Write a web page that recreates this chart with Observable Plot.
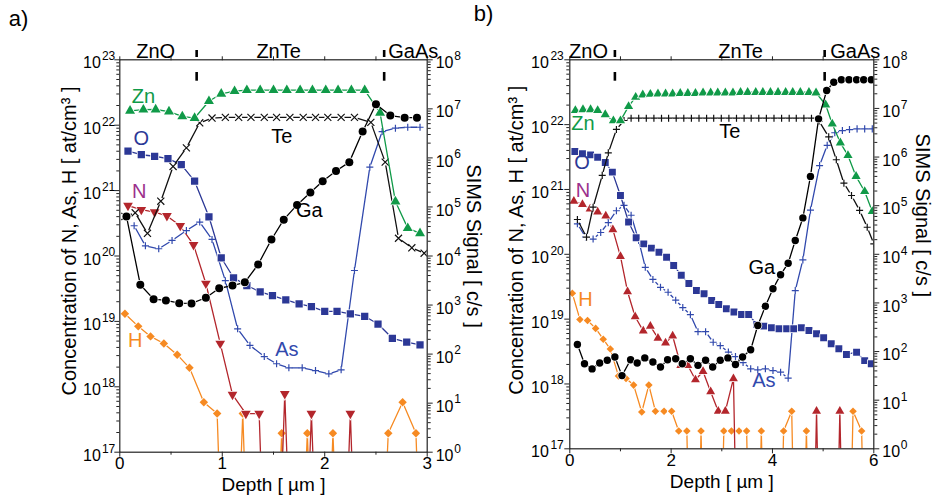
<!DOCTYPE html>
<html><head><meta charset="utf-8">
<script src="https://cdn.jsdelivr.net/npm/d3@7"></script>
<script src="https://cdn.jsdelivr.net/npm/@observablehq/plot@0.6"></script>
<style>
body{margin:0;background:#fff;}
#wrap{position:relative;width:933px;height:504px;overflow:hidden;font-family:"Liberation Sans",Arial,sans-serif;}
#wrap svg{position:absolute;top:0;overflow:visible;}
</style></head><body><div id="wrap"></div>
<script>
// ---------- tick labels ----------
const leftExponents = [17, 18, 19, 20, 21, 22, 23];   // concentration axis 10^17 .. 10^23 at/cm3
const rightExponents = [0, 1, 2, 3, 4, 5, 6, 7, 8];    // SIMS signal axis 10^0 .. 10^8 c/s
const aDepthTicks = [0, 1, 2, 3];
const bDepthTicks = [0, 2, 4, 6];
const aLayers = ["ZnO", "ZnTe", "GaAs"];
const bLayers = ["ZnO", "ZnTe", "GaAs"];
const aInterfaces = [0.75, 2.58];
const bInterfaces = [0.89, 5.03];

// ---------- panel a) data ----------
const aZnDepth = [0.10,0.23,0.35,0.48,0.61,0.73,0.87,0.99,1.12,1.24,1.37,1.50,1.63,1.76,1.88,2.01,2.13,2.26,2.39,2.54,2.69,2.81,2.93];
const aZnSignal = [9.1e6,9.6e6,9.7e6,8.8e6,7.0e6,6.5e6,1.43e7,2.03e7,2.29e7,2.4e7,2.4e7,2.4e7,2.4e7,2.4e7,2.4e7,2.4e7,2.4e7,2.4e7,2.4e7,8.3e6,1.29e5,3.7e4,2.9e4];
const aTeDepth = [0.05,0.15,0.27,0.40,0.52,0.65,0.78,0.90,1.03,1.16,1.28,1.41,1.53,1.66,1.79,1.91,2.03,2.16,2.29,2.45,2.59,2.72,2.85,2.97];
const aTeSignal = [6.4e4,7.6e4,2.9e4,1.31e5,6.7e5,1.6e6,5.2e6,6.5e6,6.7e6,6.7e6,6.7e6,6.7e6,6.7e6,6.7e6,6.7e6,6.7e6,6.7e6,6.7e6,6.7e6,5.3e6,8.2e5,2.3e4,1.47e4,1.14e4];
const aGaDepth = [0.065,0.20,0.33,0.45,0.58,0.70,0.84,0.97,1.10,1.22,1.35,1.48,1.60,1.73,1.86,1.98,2.11,2.24,2.37,2.50,2.64,2.78,2.90];
const aGaSignal = [6.4e4,2.6e3,1.32e3,1.24e3,1.09e3,1.08e3,1.41e3,2.2e3,2.5e3,2.9e3,6.7e3,2.17e4,5.5e4,1.1e5,1.97e5,3.35e5,5.4e5,8.2e5,3.45e6,1.24e7,7.3e6,6.6e6,6.6e6];
const aODepth = [0.08,0.21,0.34,0.47,0.60,0.73,0.87,0.99,1.11,1.24,1.37,1.49,1.62,1.75,1.87,2.00,2.12,2.25,2.39,2.52,2.66,2.80,2.93];
const aOSignal = [1.37e6,1.16e6,1.08e6,9.7e5,7.3e5,3.35e5,6.3e4,9.2e3,3.6e3,2.5e3,1.86e3,1.55e3,1.28e3,1.06e3,930,740,740,660,590,410,210,175,155];
const aNDepth = [0.08,0.21,0.34,0.46,0.59,0.72,0.84,0.98,1.10,1.23,1.36,1.48,1.61,1.74,1.87,2.00,2.12,2.25,2.37];
const aNConc = [5.9e20,5.1e20,4.7e20,4.1e20,2.9e20,1.48e20,3.8e19,4.6e18,7.6e17,3.9e17,3.9e17,0,7.8e17,0,3.9e17,0,0,3.9e17,0];
const aHDepth = [0.05,0.18,0.30,0.43,0.56,0.68,0.82,0.95,1.07,1.20,1.32,1.45,1.58,1.70,1.83,1.96,2.08,2.21,2.34,2.47,2.62,2.76,2.89,3.01];
const aHConc = [1.31e19,8.4e18,5.9e18,4.6e18,3.1e18,1.95e18,5.8e17,3.9e17,0,3.9e17,0,0,1.95e17,0,1.95e17,0,1.95e17,0,0,0,1.95e17,5.8e17,1.95e17,0];
const aAsDepth = [0.14,0.25,0.38,0.51,0.65,0.78,0.90,1.03,1.15,1.27,1.41,1.53,1.65,1.78,1.91,2.04,2.16,2.29,2.44,2.56,2.69,2.81,2.93];
const aAsConc = [2.9e20,1.43e20,1.29e20,1.73e20,2.45e20,3.3e20,1.79e20,4.2e19,7.7e18,4.3e18,2.9e18,2.25e18,1.95e18,1.95e18,1.77e18,1.58e18,1.82e18,6.0e19,2.28e21,8.0e21,9.0e21,9.3e21,9.3e21];

// ---------- panel b) data ----------
const bZnDepth = [0.11,0.26,0.41,0.55,0.70,0.86,1.00,1.16,1.30,1.44,1.59,1.74,1.89,2.03,2.18,2.33,2.48,2.63,2.78,2.92,3.07,3.22,3.37,3.51,3.67,3.81,3.96,4.11,4.26,4.40,4.55,4.72,4.86,5.05,5.18,5.34,5.49,5.65,5.82,5.97];
const bZnSignal = [9.1e6,9.5e6,9.5e6,9.1e6,7.5e6,5.6e6,5.6e6,1.1e7,1.7e7,1.9e7,1.96e7,2.0e7,2.0e7,2.0e7,2.05e7,2.05e7,2.05e7,2.1e7,2.1e7,2.1e7,2.1e7,2.1e7,2.15e7,2.15e7,2.15e7,2.15e7,2.15e7,2.15e7,2.15e7,2.15e7,2.15e7,2.15e7,2.1e7,1.19e7,4.8e6,1.96e6,1.08e6,4.0e5,1.96e5,7.6e4];
const bTeDepth = [0.15,0.33,0.46,0.64,0.76,0.92,1.07,1.21,1.36,1.51,1.66,1.81,1.95,2.10,2.25,2.40,2.55,2.70,2.84,2.99,3.14,3.29,3.44,3.58,3.73,3.88,4.03,4.18,4.33,4.47,4.62,4.77,4.92,5.11,5.26,5.41,5.56,5.72,5.87,6.0];
const bTeSignal = [5.2e4,2.25e4,9.3e4,4.2e5,1.22e6,3.7e6,5.65e6,6.3e6,6.3e6,6.3e6,6.3e6,6.3e6,6.3e6,6.3e6,6.3e6,6.3e6,6.3e6,6.3e6,6.3e6,6.3e6,6.3e6,6.3e6,6.3e6,6.3e6,6.3e6,6.3e6,6.3e6,6.3e6,6.3e6,6.3e6,6.3e6,6.3e6,5.5e6,2.6e6,8.8e5,2.9e5,1.62e5,8.0e4,3.6e4,1.64e4];
const bGaDepth = [0.15,0.29,0.44,0.59,0.74,0.89,1.03,1.20,1.33,1.48,1.64,1.79,1.93,2.09,2.22,2.38,2.53,2.68,2.82,2.97,3.12,3.27,3.41,3.57,3.71,3.86,4.01,4.16,4.31,4.45,4.60,4.75,4.91,5.07,5.21,5.36,5.51,5.66,5.80,5.95];
const bGaSignal = [140,56,44,58,66,77,32,68,58,74,61,48,68,71,56,71,52,66,48,66,74,54,77,109,344,857,1950,3790,6560,1.92e4,5.6e4,4.0e5,6.1e6,2.34e7,3.46e7,3.9e7,3.9e7,3.9e7,3.9e7,3.9e7];
const bODepth = [0.10,0.25,0.41,0.55,0.70,0.84,1.00,1.16,1.31,1.46,1.61,1.76,1.91,2.05,2.20,2.35,2.50,2.65,2.80,2.94,3.09,3.24,3.39,3.53,3.69,3.83,3.98,4.13,4.28,4.42,4.57,4.72,4.87,5.01,5.16,5.31,5.46,5.66,5.82,5.95];
const bOSignal = [1.3e6,1.17e6,1.11e6,9.9e5,7.7e5,4.9e5,1.62e5,4.6e4,2.19e4,1.64e4,1.34e4,1.1e4,8.7e3,5.9e3,3.7e3,2.5e3,1.8e3,1.54e3,1.12e3,930,760,650,580,580,360,333,308,294,294,294,308,271,232,192,145,114,87,97,65,56];
const bNDepth = [0.08,0.25,0.40,0.55,0.71,0.85,1.00,1.14,1.29,1.45,1.59,1.74,1.89,2.03,2.19,2.33,2.48,2.63,2.78,2.93,3.07,3.23,3.38,4.72,4.87,5.02,5.18,5.33,5.48];
const bNConc = [6.6e20,5.9e20,5.0e20,4.5e20,3.9e20,2.4e20,9.3e19,2.65e19,1.09e19,6.6e18,7.8e18,5.1e18,4.3e18,5.5e18,1.93e18,1.93e18,1.16e18,1.56e18,7.6e17,3.8e17,3.8e17,1.21e18,0,0,3.8e17,0,0,3.8e17,0];
const bHDepth = [0.05,0.20,0.35,0.51,0.66,0.80,0.96,1.11,1.26,1.42,1.56,1.69,1.86,2.01,2.15,2.31,2.46,2.59,2.74,2.89,3.04,3.19,3.34,3.49,3.63,3.78,3.93,4.07,4.22,4.38,4.52,4.67,4.82,5.44,5.59,5.76,5.91];
const bHConc = [2.5e19,9.9e18,9.5e18,7.2e18,4.9e18,3.45e18,1.33e18,1.21e18,9.6e17,3.7e17,9.6e17,3.8e17,3.8e17,3.8e17,1.88e17,1.88e17,0,1.88e17,0,0,1.88e17,1.88e17,1.88e17,1.88e17,0,1.88e17,0,0,1.88e17,3.8e17,0,1.88e17,0,0,3.8e17,1.88e17,0];
const bAsDepth = [0.15,0.31,0.46,0.61,0.76,0.92,1.07,1.21,1.36,1.49,1.64,1.79,1.94,2.09,2.23,2.38,2.53,2.68,2.83,2.97,3.13,3.27,3.42,3.57,3.71,3.86,4.01,4.16,4.31,4.45,4.60,4.75,4.93,5.08,5.23,5.38,5.52,5.67,5.82,5.97];
const bAsConc = [2.95e20,1.85e20,1.72e20,2.17e20,3.07e20,4.7e20,5.7e20,4.0e20,1.63e20,6.3e19,4.1e19,3.1e19,2.6e19,1.96e19,1.51e19,1.17e19,6.4e18,6.4e18,4.4e18,3.9e18,3.1e18,2.65e18,2.14e18,1.71e18,1.65e18,1.71e18,1.61e18,1.52e18,1.23e18,2.76e19,8.2e19,4.8e20,2.34e21,4.8e21,7.5e21,8.1e21,8.4e21,8.6e21,8.6e21,8.6e21];

// ---------- styling ----------
const C = {Zn:"#109a48", O:"#2c3896", N:"#b3262c", Nlabel:"#9c2f8c", H:"#f68a22", As:"#3149ad", Te:"#111111", Ga:"#000000"};
const FONT = "Liberation Sans, Arial, Helvetica, sans-serif";
const FLOOR = 1e12; // zero counts drawn below the axis
// SIMS signal (10^0..10^8) shares the frame with concentration (10^17..10^23)
const simsToConc = s => Math.pow(10, 17 + 0.75 * Math.log10(s));

function panel(cfg) {
  const H = 504;
  const marks = [];
  const frameBottom = H - cfg.marginBottom;
  const frameH = frameBottom - cfg.marginTop;
  for (const s of cfg.series) {
    const pts = s.depth.map((d, i) => {
      const v = s.values[i];
      return {d, real: v > 0, y: v > 0 ? (s.sims ? simsToConc(v) : v) : FLOOR};
    });
    marks.push(Plot.line(pts, {x: "d", y: "y", stroke: s.color, strokeWidth: 1.3, clip: true}));
    const real = pts.filter(p => p.real);
    if (s.stroked) {
      marks.push(Plot.dot(real, {x: "d", y: "y", r: s.halo, fill: "white", clip: true}));
      marks.push(Plot.dot(real, {x: "d", y: "y", symbol: s.symbol, r: s.r, stroke: s.color, strokeWidth: 1.2, fill: "none", clip: true}));
    } else {
      marks.push(Plot.dot(real, {x: "d", y: "y", symbol: s.symbol, r: s.r, fill: s.color, stroke: "white", strokeWidth: 1.6, paintOrder: "stroke", rotate: s.rotate || 0, clip: true}));
    }
  }
  // axes
  const leftMinor = [], rightMinor = [];
  for (let k = 17; k < 23; k++) for (let m = 2; m <= 9; m++) leftMinor.push(m * Math.pow(10, k));
  for (let k = 0; k < 8; k++) for (let m = 2; m <= 9; m++) rightMinor.push(simsToConc(m * Math.pow(10, k)));
  const blank = () => "";
  const ax = {stroke: "#222", strokeWidth: 1, label: null, tickFormat: blank};
  marks.push(Plot.axisY(leftMinor, {...ax, anchor: "left", tickSize: 3}));
  marks.push(Plot.axisY(leftExponents.map(e => Math.pow(10, e)), {...ax, anchor: "left", tickSize: 5}));
  marks.push(Plot.axisY(rightMinor, {...ax, anchor: "right", tickSize: 3}));
  marks.push(Plot.axisY(rightExponents.map(e => simsToConc(Math.pow(10, e))), {...ax, anchor: "right", tickSize: 5}));
  marks.push(Plot.axisX(cfg.xMinor, {...ax, anchor: "bottom", tickSize: 3}));
  marks.push(Plot.axisX(cfg.xTicks, {stroke: "#222", fill: "#000", anchor: "bottom", tickSize: 5, tickPadding: 0, fontSize: 17, label: null, tickFormat: d => String(d)}));
  marks.push(Plot.axisX(cfg.xTicks.concat(cfg.xMinor), {...ax, anchor: "top", tickSize: 4}));
  marks.push(Plot.frame({stroke: "#222", strokeWidth: 1.2}));
  // power-of-ten tick labels
  marks.push(Plot.text(leftExponents, {y: e => Math.pow(10, e), text: () => "10", frameAnchor: "left", textAnchor: "end", dx: cfg.leftTenDx, dy: 3.5, fontSize: 16, fill: "#000"}));
  marks.push(Plot.text(leftExponents, {y: e => Math.pow(10, e), text: e => String(e), frameAnchor: "left", textAnchor: "end", dx: cfg.leftExpDx, dy: -3.5, fontSize: 12, fill: "#000"}));
  marks.push(Plot.text(rightExponents, {y: e => simsToConc(Math.pow(10, e)), text: () => "10", frameAnchor: "right", textAnchor: "start", dx: 8.5, dy: 3.5, fontSize: 16, fill: "#000"}));
  marks.push(Plot.text(rightExponents, {y: e => simsToConc(Math.pow(10, e)), text: e => String(e), frameAnchor: "right", textAnchor: "start", dx: 27, dy: -3.5, fontSize: 12, fill: "#000"}));
  // titles
  marks.push(Plot.text(["Depth [ \u00b5m ]"], {text: d => d, frameAnchor: "bottom", textAnchor: "middle", lineAnchor: "middle", dy: 33, fontSize: 19, fill: "#000"}));
  marks.push(Plot.text(["Concentration of N, As, H [ at/cm\u00b3 ]"], {text: d => d, frameAnchor: "left", textAnchor: "middle", lineAnchor: "middle", rotate: -90, dx: cfg.leftTitle[0], dy: cfg.leftTitle[1], fontSize: 20, fill: "#000"}));
  marks.push(Plot.text(["SIMS Signal [ c/s ]"], {text: d => d, frameAnchor: "right", textAnchor: "middle", lineAnchor: "middle", rotate: 90, dx: cfg.rightTitle[0], dy: cfg.rightTitle[1], fontSize: 20, fill: "#000"}));
  marks.push(Plot.text([cfg.letter], {text: d => d, frameAnchor: "top-left", textAnchor: "start", lineAnchor: "top", dx: cfg.letterPos[0], dy: cfg.letterPos[1], fontSize: 22, fill: "#000"}));
  // layer names and interface markers
  marks.push(Plot.text(cfg.layers.slice(0, 2), {x: (d, i) => cfg.layerX[i], text: d => d, textAnchor: "middle", frameAnchor: "top", lineAnchor: "bottom", dy: -2, fontSize: 20, fill: "#000"}));
  marks.push(Plot.text(cfg.layers.slice(2), {x: () => cfg.layerX[2], text: d => d, textAnchor: "start", frameAnchor: "top", lineAnchor: "bottom", dy: -2, fontSize: 20, fill: "#000"}));
  marks.push(Plot.ruleX(cfg.interfaces, {x: d => d, stroke: "#000", strokeWidth: 2.6, insetTop: -9.3, insetBottom: frameH - (57 - cfg.marginTop)}));
  marks.push(Plot.ruleX(cfg.interfaces, {x: d => d, stroke: "#000", strokeWidth: 2.6, insetTop: 72 - cfg.marginTop, insetBottom: frameH - (80.7 - cfg.marginTop)}));
  // series names
  marks.push(Plot.text(cfg.names, {x: "d", y: "v", text: "t", fill: "c", fontSize: 20}));

  const svg = Plot.plot({
    width: cfg.width, height: H,
    marginLeft: cfg.marginLeft, marginRight: cfg.marginRight, marginTop: cfg.marginTop, marginBottom: cfg.marginBottom,
    x: {domain: cfg.xDomain, axis: null, label: null},
    y: {type: "log", domain: [1e17, 1e23], axis: null, label: null},
    color: {type: "identity"},
    style: {fontFamily: FONT, background: "transparent", overflow: "visible", color: "#000"},
    marks
  });
  svg.style.left = cfg.left + "px";
  return svg;
}

const wrap = document.getElementById("wrap");
wrap.appendChild(panel({
  left: 0, width: 466, marginLeft: 119.3, marginRight: 39.3, marginTop: 59.3, marginBottom: 52.3,
  xDomain: [0, 3], xTicks: aDepthTicks, xMinor: [0.5, 1.5, 2.5],
  leftTenDx: -19, leftExpDx: -4.5,
  leftTitle: [-50, -15], rightTitle: [46.5, -10],
  letter: "a)", letterPos: [-111, -49],
  layers: aLayers, layerX: [0.35, 1.55, 2.62], interfaces: aInterfaces,
  series: [
    {depth: aHDepth, values: aHConc, color: C.H, symbol: "diamond2", r: 3.8},
    {depth: aNDepth, values: aNConc, color: C.N, symbol: "triangle", r: 3.6, rotate: 180},
    {depth: aAsDepth, values: aAsConc, color: C.As, symbol: "plus", r: 2.4, halo: 3, stroked: true},
    {depth: aODepth, values: aOSignal, sims: true, color: C.O, symbol: "square", r: 4.1},
    {depth: aTeDepth, values: aTeSignal, sims: true, color: C.Te, symbol: "times", r: 3.3, halo: 3.4, stroked: true},
    {depth: aZnDepth, values: aZnSignal, sims: true, color: C.Zn, symbol: "triangle", r: 3.7},
    {depth: aGaDepth, values: aGaSignal, sims: true, color: C.Ga, symbol: "circle", r: 4}
  ],
  names: [
    {t: "Zn", d: 0.23, v: 2.75e22, c: C.Zn}, {t: "O", d: 0.21, v: 6.3e21, c: C.O},
    {t: "N", d: 0.19, v: 9.5e20, c: C.Nlabel}, {t: "H", d: 0.15, v: 5.0e18, c: C.H},
    {t: "Te", d: 1.58, v: 6.8e21, c: "#000"}, {t: "Ga", d: 1.85, v: 5.0e20, c: "#000"},
    {t: "As", d: 1.63, v: 3.7e18, c: C.As}
  ]
}));
wrap.appendChild(panel({
  left: 466, width: 467, marginLeft: 103.3, marginRight: 59.7, marginTop: 59.3, marginBottom: 55.7,
  xDomain: [0, 6], xTicks: bDepthTicks, xMinor: [1, 3, 5],
  leftTenDx: -21, leftExpDx: -6,
  leftTitle: [-52.8, -14], rightTitle: [48.5, -39],
  letter: "b)", letterPos: [-96, -54],
  layers: bLayers, layerX: [0.37, 3.37, 5.14], interfaces: bInterfaces,
  series: [
    {depth: bHDepth, values: bHConc, color: C.H, symbol: "diamond2", r: 3.4},
    {depth: bNDepth, values: bNConc, color: C.N, symbol: "triangle", r: 3.3},
    {depth: bAsDepth, values: bAsConc, color: C.As, symbol: "plus", r: 2.4, halo: 3.5, stroked: true},
    {depth: bODepth, values: bOSignal, sims: true, color: C.O, symbol: "square", r: 3.9},
    {depth: bTeDepth, values: bTeSignal, sims: true, color: C.Te, symbol: "plus", r: 2.4, halo: 3.5, stroked: true},
    {depth: bZnDepth, values: bZnSignal, sims: true, color: C.Zn, symbol: "triangle", r: 3.4},
    {depth: bGaDepth, values: bGaSignal, sims: true, color: C.Ga, symbol: "circle", r: 3.7}
  ],
  names: [
    {t: "Zn", d: 0.26, v: 1.02e22, c: C.Zn}, {t: "O", d: 0.24, v: 2.6e21, c: C.O},
    {t: "N", d: 0.26, v: 9.6e20, c: C.Nlabel}, {t: "H", d: 0.31, v: 1.97e19, c: C.H},
    {t: "Te", d: 3.16, v: 7.7e21, c: "#000"}, {t: "Ga", d: 3.79, v: 6.2e19, c: "#000"},
    {t: "As", d: 3.83, v: 1.13e18, c: C.As}
  ]
}));
</script>
</body></html>
